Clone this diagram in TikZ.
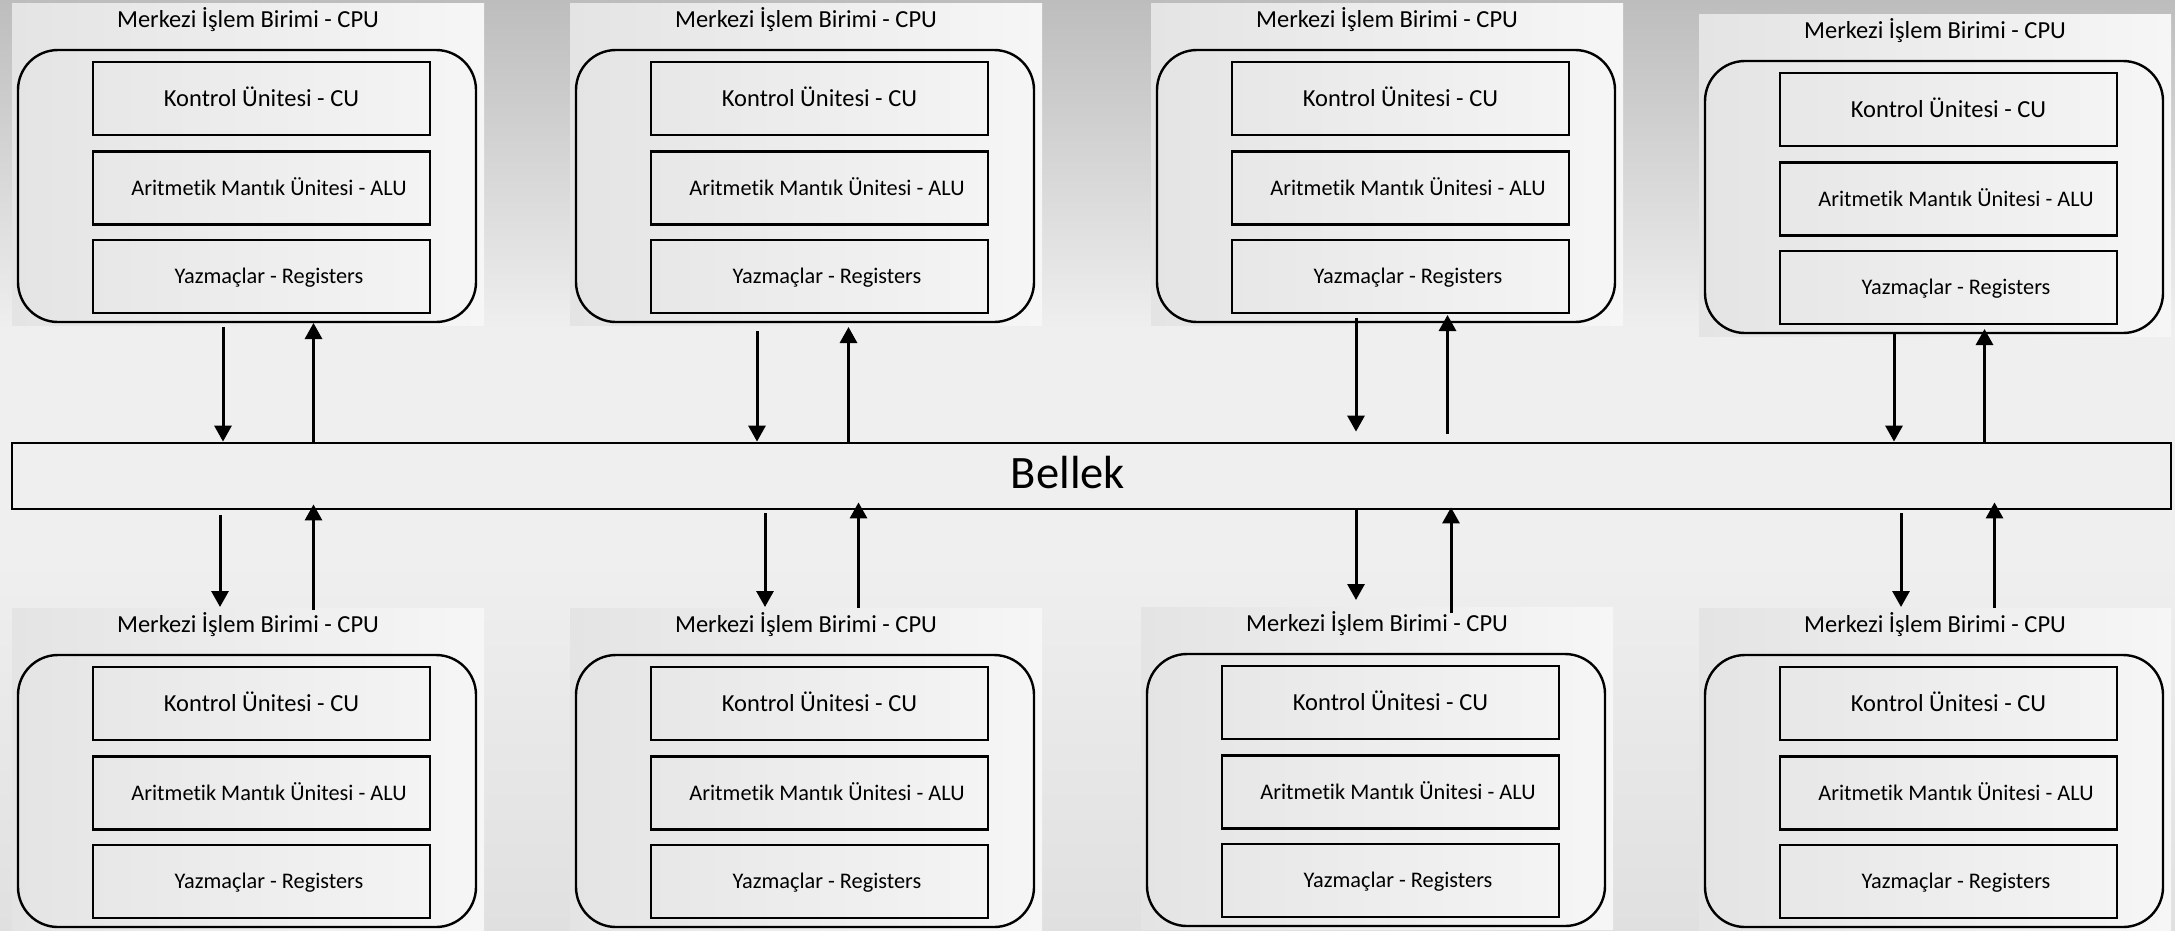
\documentclass[tikz,border=0pt]{standalone}
\usepackage{fontspec}
\setmainfont{Carlito}[Ligatures=NoCommon]
\usetikzlibrary{arrows.meta,calc}

\definecolor{bgtop}{HTML}{BDBDBD}
\definecolor{bgmid}{HTML}{EFEFEF}
\definecolor{bgbot}{HTML}{E0E0E0}
\definecolor{panelL}{HTML}{E4E4E4}
\definecolor{panelR}{HTML}{F6F6F6}

\tikzset{
  panel/.style={left color=panelL, right color=panelR, draw=none},
  cpuframe/.style={draw, line width=2.4pt, rounded corners=40pt,
    minimum width=458pt, minimum height=272pt, inner sep=0pt},
  unitbox/.style={draw, line width=2.7pt, minimum width=337pt,
    minimum height=73pt, inner sep=0pt, text depth=0pt},
  cutext/.style={font=\fontsize{24.5}{28}\selectfont, text height=15.8pt},
  subtext/.style={font=\fontsize{22.3}{26}\selectfont, text height=14.4pt},
  cputitle/.style={font=\fontsize{24.5}{28}\selectfont, anchor=base, inner sep=0pt},
  memory/.style={draw, line width=2.8pt, minimum width=2159pt,
    minimum height=66pt, inner sep=0pt, font=\fontsize{46.5}{52}\selectfont,
    text height=24pt, text depth=0pt},
  arr/.style={line width=3pt, -{Triangle[length=16pt,width=17pt]}},
}

% one processor: panel, title, frame and its three units
\newcommand\cpublock[3]{%
  \begin{scope}[shift={(#2,#3)}]
    \path[panel] (0,0) rectangle (472,322);
    \node[cputitle] (#1-title) at (236,24) {Merkezi İşlem Birimi - CPU};
    \node[cpuframe] (#1-frame) at (235,183) {};
    \node[unitbox,cutext] (#1-cu) at (249.5,95.5) {Kontrol Ünitesi - CU};
    \node[unitbox,subtext] (#1-alu) at (249.5,185) {\hspace*{15pt}Aritmetik Mantık Ünitesi - ALU};
    \node[unitbox,subtext] (#1-reg) at (249.5,273.5) {\hspace*{15pt}Yazmaçlar - Registers};
  \end{scope}}

\begin{document}
\begin{tikzpicture}[x=1pt,y=-1pt]
  \useasboundingbox (0,0) rectangle (2175,930);

  % background
  \shade[top color=bgtop, bottom color=bgmid] (0,0) rectangle (2175,330);
  \fill[bgmid] (0,329) rectangle (2175,560);
  \shade[top color=bgmid, bottom color=bgbot] (0,559) rectangle (2175,930);

  % processors
  \cpublock{c1}{12}{3}
  \cpublock{c2}{570}{3}
  \cpublock{c3}{1151}{3}
  \cpublock{c4}{1699}{14}
  \cpublock{c5}{12}{608}
  \cpublock{c6}{570}{608}
  \cpublock{c7}{1141}{607}
  \cpublock{c8}{1699}{608}

  % shared memory
  \node[memory] (bellek) at (1091.5,476) {Bellek\hspace*{47pt}};

  % links, upper row
  \coordinate (d1) at (223,327);    \coordinate (u1) at (313.5,323);
  \coordinate (d2) at (757,331);    \coordinate (u2) at (848.5,327);
  \coordinate (d3) at (1356,318);   \coordinate (u3) at (1447.5,315);
  \coordinate (d4) at (1894,333);   \coordinate (u4) at (1984.5,329);
  \draw[arr] (d1) -- (d1 |- bellek.north);
  \draw[arr] (u1 |- bellek.north) -- (u1);
  \draw[arr] (d2) -- (d2 |- bellek.north);
  \draw[arr] (u2 |- bellek.north) -- (u2);
  \draw[arr, shorten >=10pt] (d3) -- (d3 |- bellek.north);
  \draw[arr, shorten <=8pt] (u3 |- bellek.north) -- (u3);
  \draw[arr] (d4) -- (d4 |- bellek.north);
  \draw[arr] (u4 |- bellek.north) -- (u4);

  % links, lower row
  \coordinate (d5) at (220,607);    \coordinate (u5) at (313.5,610);
  \coordinate (d6) at (765,607);    \coordinate (u6) at (858.5,608);
  \coordinate (d7) at (1356,600);   \coordinate (u7) at (1451,613);
  \coordinate (d8) at (1901,607);   \coordinate (u8) at (1994.5,608);
  \draw[arr, shorten <=5pt] (d5 |- bellek.south) -- (d5);
  \draw[arr, shorten >=-6pt] (u5) -- (u5 |- bellek.south);
  \draw[arr, shorten <=3pt] (d6 |- bellek.south) -- (d6);
  \draw[arr, shorten >=-8pt] (u6) -- (u6 |- bellek.south);
  \draw[arr, shorten <=-2pt] (d7 |- bellek.south) -- (d7);
  \draw[arr, shorten >=-3pt] (u7) -- (u7 |- bellek.south);
  \draw[arr, shorten <=3pt] (d8 |- bellek.south) -- (d8);
  \draw[arr, shorten >=-8pt] (u8) -- (u8 |- bellek.south);
\end{tikzpicture}
\end{document}
